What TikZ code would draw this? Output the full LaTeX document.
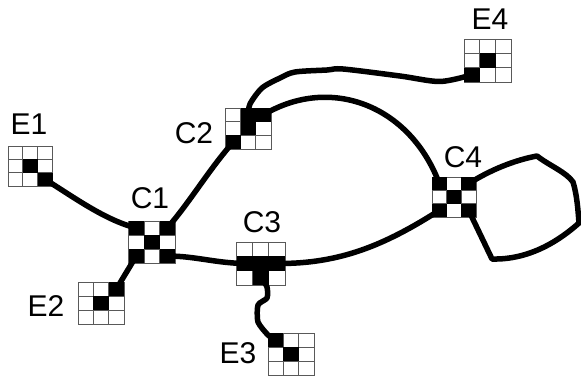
\documentclass[tikz,border=0pt]{standalone}
\usepackage{fontspec}
\setmainfont{Liberation Sans}
\tikzset{
  cellbox/.style={draw=black!65,line width=0.9pt,fill=white,inner sep=0pt,outer sep=0pt,anchor=center},
  wire/.style={draw=black,line width=5.5pt,line cap=round,line join=round},
  lab/.style={inner sep=0pt,font=\fontsize{30}{30}\selectfont}
}
\newcommand{\gridnode}[6]{%
  \pgfmathsetmacro{\cw}{(#4-#2)/3}\pgfmathsetmacro{\ch}{(#5-#3)/3}%
  \foreach \cc in {1,2,3}{\foreach \rr in {1,2,3}{%
    \node[cellbox,minimum width=\cw pt,minimum height=\ch pt] (#1-\cc-\rr)
      at ({#2+(\cc-0.5)*\cw},{#3+(\rr-0.5)*\ch}) {};}}%
  \foreach \cc/\rr in {#6}{\fill[black] (#1-\cc-\rr.south west) rectangle (#1-\cc-\rr.north east);}%
}
\begin{document}
\begin{tikzpicture}[x=1pt,y=-1pt]
\useasboundingbox (0,0) rectangle (581,380);
\gridnode{E1}{8}{146}{52.5}{186}{2/2,3/3}
\gridnode{C1}{128.5}{221}{175}{263}{1/1,3/1,2/2,1/3,3/3}
\gridnode{E2}{78}{282}{124}{324}{3/1,2/2}
\gridnode{C2}{225.7}{108}{271}{149}{2/1,3/1,2/2,1/3}
\gridnode{C3}{236.7}{242}{285}{285}{1/2,2/2,3/2,2/3}
\gridnode{E3}{268}{333}{314}{375}{1/1,2/2}
\gridnode{E4}{464}{39}{511.5}{82}{2/2,1/3}
\gridnode{C4}{432}{177}{476}{217}{1/1,3/1,2/2,1/3,3/3}
% connectors
\draw[wire] (E1-3-3.center) .. controls (75,198) and (105,220) .. (C1-1-1.center);
\draw[wire] (C1-1-3.center) -- (E2-3-1.center);
\draw[wire] (C1-3-1.center) .. controls (190,202) and (210,168) .. (C2-1-3.center);
\draw[wire] (C1-3-3.center) .. controls (195,256) and (215,263) .. (C3-1-2.center);
\draw[wire] (C3-3-2.center) .. controls (340,264) and (385,245) .. (C4-1-3.center);
\draw[wire] (C2-3-1.center) .. controls (330,75) and (410,105) .. (C4-1-1.center);
\draw[wire] plot[smooth,tension=0.5] coordinates {(C2-2-1.center) (250,104) (262,88) (280,78) (295,72) (327,70) (343,69) (400,76) (440,81.5) (E4-1-3.center)};
\draw[wire] plot[smooth,tension=0.4] coordinates {(C3-2-3.center) (267,287) (267,298) (258,305) (258,322) (268,335) (E3-1-1.center)};
\draw[wire] (C4-3-1.center) .. controls (490,170) and (515,160) .. (537,156)
  .. controls (550,166) and (566,172) .. (573,182)
  .. controls (577,195) and (578,210) .. (579,223)
  .. controls (560,240) and (530,260) .. (492,259)
  -- (C4-3-3.center);
% labels
\node[lab] (lE1) at (29,124) {E1};
\node[lab] (lC1) at (150,198) {C1};
\node[lab] (lE2) at (46,306) {E2};
\node[lab] (lC2) at (194,133) {C2};
\node[lab] (lC3) at (262,222) {C3};
\node[lab] (lE3) at (238,353) {E3};
\node[lab] (lE4) at (490,19) {E4};
\node[lab] (lC4) at (463,157) {C4};
\end{tikzpicture}
\end{document}
